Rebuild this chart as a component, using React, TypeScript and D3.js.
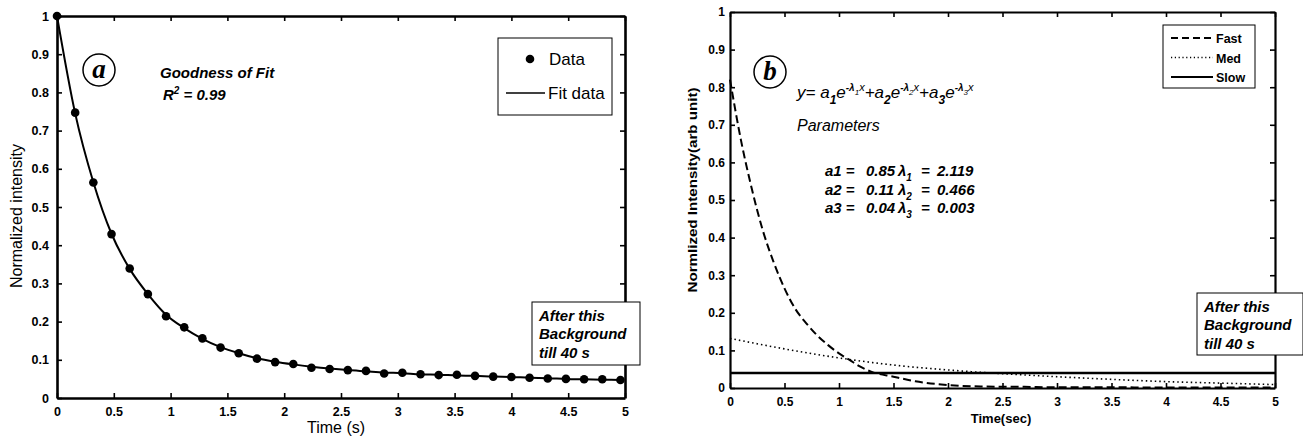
import React, { useRef, useEffect } from "react";
import * as d3 from "d3";

const SANS = "'Liberation Sans', Arial, Helvetica, sans-serif";
const SERIF = "'Liberation Serif', 'Times New Roman', serif";

// tick values shared by both panels
const xTicks = [0, 0.5, 1, 1.5, 2, 2.5, 3, 3.5, 4, 4.5, 5];
const yTicks = [0, 0.1, 0.2, 0.3, 0.4, 0.5, 0.6, 0.7, 0.8, 0.9, 1];

// panel a: measured decay
const timeA = [
  0, 0.16, 0.32, 0.48, 0.64, 0.8, 0.96, 1.12, 1.28, 1.44, 1.6, 1.76, 1.92, 2.08, 2.24, 2.4,
  2.56, 2.72, 2.88, 3.04, 3.2, 3.36, 3.52, 3.68, 3.84, 4.0, 4.16, 4.32, 4.48, 4.64, 4.8, 4.96,
];
const intensityA = [
  1.0, 0.747, 0.564, 0.429, 0.339, 0.272, 0.214, 0.185, 0.156, 0.132, 0.117, 0.103, 0.094, 0.089,
  0.079, 0.076, 0.073, 0.071, 0.064, 0.066, 0.062, 0.06, 0.061, 0.058, 0.056, 0.055, 0.053, 0.051,
  0.05, 0.049, 0.049, 0.047,
];
// fitted curve (drawn through the same times)
const fitA = [
  1.0, 0.745, 0.565, 0.43, 0.338, 0.272, 0.218, 0.183, 0.155, 0.133, 0.117, 0.104, 0.095, 0.088,
  0.082, 0.077, 0.073, 0.07, 0.067, 0.065, 0.062, 0.061, 0.059, 0.058, 0.056, 0.055, 0.053, 0.052,
  0.05, 0.049, 0.048, 0.047,
];

// panel b: three components
const timeFast = [0, 0.1, 0.2, 0.3, 0.4, 0.5, 0.6, 0.7, 0.8, 0.9, 1.0, 1.1, 1.2, 1.3, 1.5, 1.7, 2.0, 2.3, 2.7, 3, 3.5, 4, 4.5, 5];
const fastVals = [0.82, 0.66, 0.53, 0.42, 0.335, 0.265, 0.21, 0.172, 0.14, 0.114, 0.092, 0.074, 0.056, 0.043, 0.03, 0.018, 0.008, 0.004, 0.003, 0.002, 0.002, 0.001, 0.001, 0.001];
const timeMed = [0, 0.5, 1, 1.5, 2, 2.5, 3, 3.5, 4, 4.5, 5];
const medVals = [0.132, 0.104, 0.08, 0.061, 0.048, 0.038, 0.03, 0.023, 0.017, 0.013, 0.009];
const timeSlow = [0, 5];
const slowVals = [0.04, 0.04];

const paramNames = ["a1", "a2", "a3"];
const paramAmps = ["0.85", "0.11", "0.04"];
const paramRates = ["2.119", "0.466", "0.003"];

const fmt = d3.format("~g");

function frame(svg, x, y, box, o) {
  const g = svg.append("g");
  const bottom = g.append("g").attr("transform", `translate(0,${box.bottom})`)
    .call(d3.axisBottom(x).tickValues(xTicks).tickSizeInner(-5).tickSizeOuter(0).tickPadding(o.padX).tickFormat(fmt));
  const left = g.append("g").attr("transform", `translate(${box.left},0)`)
    .call(d3.axisLeft(y).tickValues(yTicks).tickSizeInner(-5).tickSizeOuter(0).tickPadding(o.padY).tickFormat(fmt));
  const top = g.append("g").attr("transform", `translate(0,${box.top})`)
    .call(d3.axisTop(x).tickValues(xTicks).tickSizeInner(-5).tickSizeOuter(0).tickFormat(() => ""));
  const right = g.append("g").attr("transform", `translate(${box.right},0)`)
    .call(d3.axisRight(y).tickValues(yTicks).tickSizeInner(-5).tickSizeOuter(0).tickFormat(() => ""));
  [bottom, left, top, right].forEach((a) => {
    a.select(".domain").attr("stroke", "#000").attr("stroke-width", o.stroke);
    a.selectAll(".tick line").attr("stroke", "#000").attr("stroke-width", 1.6);
    a.selectAll("text").attr("font-family", SANS).attr("font-weight", "bold")
      .attr("font-size", o.tickSize).attr("fill", "#000");
  });
}

function badge(svg, cx, cy, letter) {
  svg.append("circle").attr("cx", cx).attr("cy", cy).attr("r", 16)
    .attr("fill", "none").attr("stroke", "#000").attr("stroke-width", 1.5);
  svg.append("text").attr("x", cx).attr("y", cy + 8).attr("text-anchor", "middle")
    .attr("font-family", SERIF).attr("font-style", "italic").attr("font-weight", "bold")
    .attr("font-size", 27).text(letter);
}

function noteBox(svg, x, y, w, h, lines, base) {
  svg.append("rect").attr("x", x).attr("y", y).attr("width", w).attr("height", h)
    .attr("fill", "#fff").attr("stroke", "#000").attr("stroke-width", 1);
  lines.forEach((l, i) => {
    svg.append("text").attr("x", x + 7).attr("y", base + i * 18.3)
      .attr("font-family", SANS).attr("font-style", "italic").attr("font-weight", "bold")
      .attr("font-size", 15).text(l);
  });
}

export default function App() {
  const ref = useRef(null);

  useEffect(() => {
    const svg = d3.select(ref.current);
    svg.selectAll("*").remove();

    // ---------- panel a ----------
    const boxA = { left: 57, right: 625, top: 16, bottom: 398 };
    const xA = d3.scaleLinear().domain([0, 5]).range([boxA.left, boxA.right]);
    const yA = d3.scaleLinear().domain([0, 1]).range([boxA.bottom, boxA.top]);
    const lineA = d3.line().x((d) => xA(d[0])).y((d) => yA(d[1])).curve(d3.curveMonotoneX);

    svg.append("path").attr("d", lineA(timeA.map((t, i) => [t, fitA[i]])))
      .attr("fill", "none").attr("stroke", "#000").attr("stroke-width", 2);
    svg.append("g").selectAll("circle").data(timeA.map((t, i) => [t, intensityA[i]])).enter().append("circle")
      .attr("cx", (d) => xA(d[0])).attr("cy", (d) => yA(d[1])).attr("r", 4.3).attr("fill", "#000");

    frame(svg, xA, yA, boxA, { stroke: 2.6, padX: 9, padY: 8, tickSize: 12.5 });

    svg.append("text").attr("transform", "translate(22,216) rotate(-90)").attr("text-anchor", "middle")
      .attr("font-family", SANS).attr("font-size", 16).text("Normalized intensity");
    svg.append("text").attr("x", 336).attr("y", 433).attr("text-anchor", "middle")
      .attr("font-family", SANS).attr("font-size", 16).text("Time (s)");

    badge(svg, 99, 70, "a");

    svg.append("text").attr("x", 160).attr("y", 78).attr("font-family", SANS)
      .attr("font-style", "italic").attr("font-weight", "bold").attr("font-size", 15).text("Goodness of Fit");
    const r2 = svg.append("text").attr("x", 163).attr("y", 100).attr("font-family", SANS)
      .attr("font-style", "italic").attr("font-weight", "bold").attr("font-size", 15);
    r2.append("tspan").text("R");
    r2.append("tspan").attr("dy", -6).attr("font-size", 10).text("2");
    r2.append("tspan").attr("dy", 6).text(" = 0.99");

    // legend a
    svg.append("rect").attr("x", 498).attr("y", 38).attr("width", 114).attr("height", 77)
      .attr("fill", "#fff").attr("stroke", "#000").attr("stroke-width", 1);
    svg.append("circle").attr("cx", 530).attr("cy", 59).attr("r", 4.3).attr("fill", "#000");
    svg.append("text").attr("x", 549).attr("y", 65).attr("font-family", SANS).attr("font-size", 17).text("Data");
    svg.append("line").attr("x1", 506).attr("x2", 545).attr("y1", 93).attr("y2", 93)
      .attr("stroke", "#000").attr("stroke-width", 1.3);
    svg.append("text").attr("x", 548).attr("y", 99).attr("font-family", SANS).attr("font-size", 17).text("Fit data");

    noteBox(svg, 532, 302, 108, 63, ["After this", "Background", "till 40 s"], 321);

    // ---------- panel b ----------
    const boxB = { left: 730, right: 1275, top: 12, bottom: 388 };
    const xB = d3.scaleLinear().domain([0, 5]).range([boxB.left, boxB.right]);
    const yB = d3.scaleLinear().domain([0, 1]).range([boxB.bottom, boxB.top]);
    const lineB = d3.line().x((d) => xB(d[0])).y((d) => yB(d[1])).curve(d3.curveMonotoneX);

    svg.append("path").attr("d", lineB(timeSlow.map((t, i) => [t, slowVals[i]])))
      .attr("fill", "none").attr("stroke", "#000").attr("stroke-width", 2.4);
    svg.append("path").attr("d", lineB(timeMed.map((t, i) => [t, medVals[i]])))
      .attr("fill", "none").attr("stroke", "#000").attr("stroke-width", 1.6).attr("stroke-dasharray", "1.5 3");
    svg.append("path").attr("d", lineB(timeFast.map((t, i) => [t, fastVals[i]])))
      .attr("fill", "none").attr("stroke", "#000").attr("stroke-width", 2).attr("stroke-dasharray", "8 4");

    frame(svg, xB, yB, boxB, { stroke: 2.2, padX: 9, padY: 5, tickSize: 12 });

    svg.append("text").attr("transform", "translate(697,190) rotate(-90)").attr("text-anchor", "middle")
      .attr("font-family", SANS).attr("font-weight", "bold").attr("font-size", 12)
      .attr("textLength", 205).attr("lengthAdjust", "spacingAndGlyphs").text("Normlized Intensity(arb unit)");
    svg.append("text").attr("x", 1001).attr("y", 423).attr("text-anchor", "middle")
      .attr("font-family", SANS).attr("font-weight", "bold").attr("font-size", 13).text("Time(sec)");

    badge(svg, 770, 72, "b");

    // formula
    const f = svg.append("text").attr("x", 797).attr("y", 98).attr("font-family", SANS)
      .attr("font-style", "italic").attr("font-size", 17);
    let off = 0;
    const piece = (txt, shift, size, bold) => {
      f.append("tspan").attr("dy", shift - off).attr("font-size", size)
        .attr("font-weight", bold ? "bold" : "normal").text(txt);
      off = shift;
    };
    piece("y= ", 0, 17, false);
    ["1", "2", "3"].forEach((n, i) => {
      piece("a", 0, 17, false);
      piece(n, 6, 12, true);
      piece("e", 0, 17, false);
      piece("-λ", -7, 10, true);
      piece(n, -3, 8, false);
      piece("x", -7, 11, false);
      if (i < 2) piece("+", 0, 17, false);
    });
    svg.append("text").attr("x", 797).attr("y", 131).attr("font-family", SANS)
      .attr("font-style", "italic").attr("font-size", 16).text("Parameters");

    paramNames.forEach((p, i) => {
      const yy = 176 + i * 18.5;
      const t = (x, txt) => svg.append("text").attr("x", x).attr("y", yy).attr("font-family", SANS)
        .attr("font-style", "italic").attr("font-weight", "bold").attr("font-size", 15).text(txt);
      t(825, `${p} =`);
      t(866, paramAmps[i]);
      const l = t(898, "λ");
      l.append("tspan").attr("dy", 5).attr("font-size", 10).text(String(i + 1));
      t(921, "=");
      t(937, paramRates[i]);
    });

    // legend b
    svg.append("rect").attr("x", 1163).attr("y", 25).attr("width", 92).attr("height", 63)
      .attr("fill", "#fff").attr("stroke", "#000").attr("stroke-width", 1);
    const legB = [
      { name: "Fast", dash: "7 4", w: 2 },
      { name: "Med", dash: "1.2 2.6", w: 1.3 },
      { name: "Slow", dash: null, w: 2.2 },
    ];
    legB.forEach((d, i) => {
      const yy = 38 + i * 19.5;
      const ln = svg.append("line").attr("x1", 1171).attr("x2", 1213).attr("y1", yy).attr("y2", yy)
        .attr("stroke", "#000").attr("stroke-width", d.w);
      if (d.dash) ln.attr("stroke-dasharray", d.dash);
      svg.append("text").attr("x", 1216).attr("y", yy + 5).attr("font-family", SANS)
        .attr("font-weight", "bold").attr("font-size", 12.5).text(d.name);
    });

    noteBox(svg, 1197, 293, 106, 62, ["After this", "Background", "till 40 s"], 312);
  }, []);

  return (
    <svg ref={ref} width={1303} height={441}
      style={{ position: "absolute", left: 0, top: 0, background: "#fff" }} />
  );
}
